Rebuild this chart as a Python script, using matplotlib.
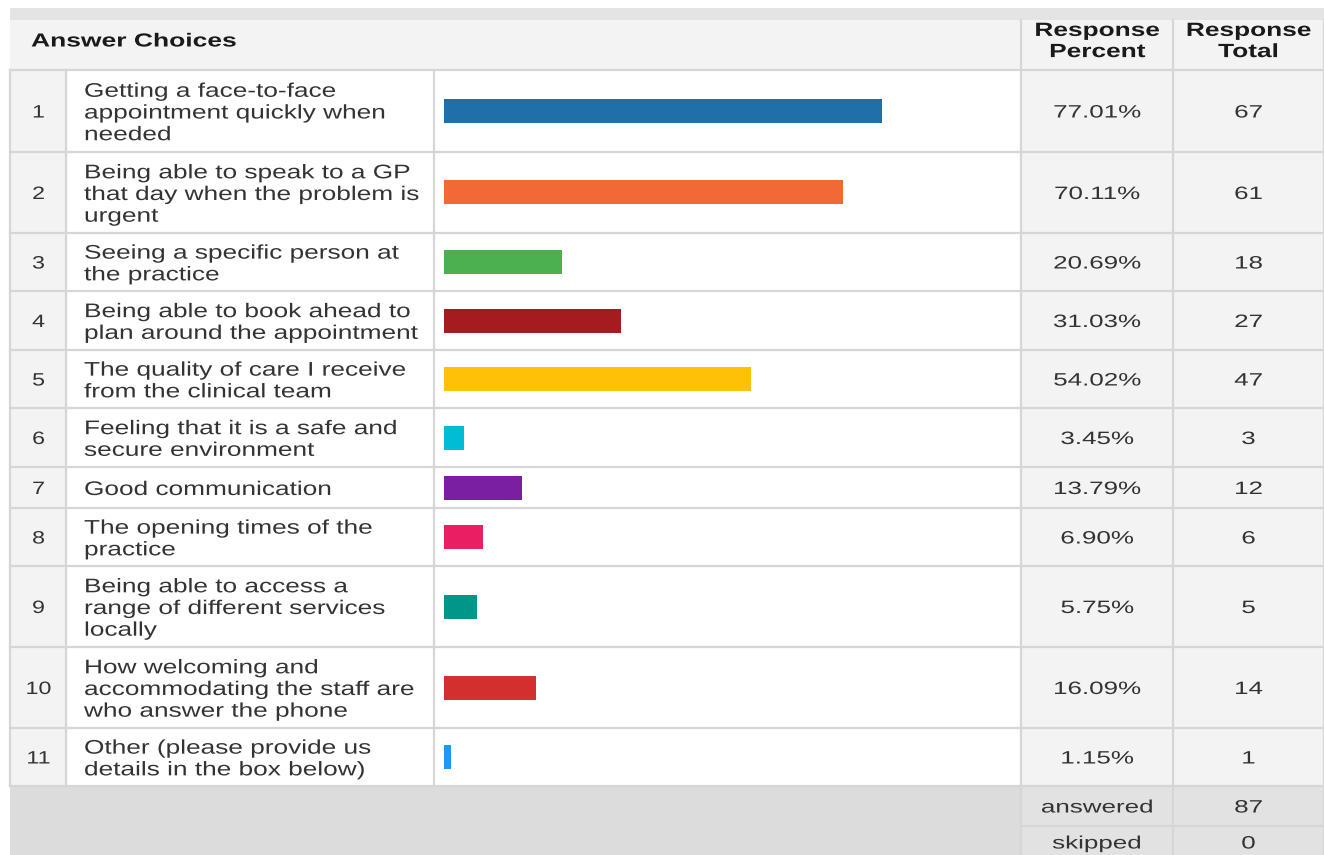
import matplotlib
matplotlib.use("Agg")
import matplotlib.pyplot as plt
from matplotlib.patches import Rectangle
from matplotlib.patheffects import AbstractPathEffect
from matplotlib.transforms import Affine2D

numbers = [str(i) for i in range(1, 12)]
choices = [
    "Getting a face-to-face\nappointment quickly when\nneeded",
    "Being able to speak to a GP\nthat day when the problem is\nurgent",
    "Seeing a specific person at\nthe practice",
    "Being able to book ahead to\nplan around the appointment",
    "The quality of care I receive\nfrom the clinical team",
    "Feeling that it is a safe and\nsecure environment",
    "Good communication",
    "The opening times of the\npractice",
    "Being able to access a\nrange of different services\nlocally",
    "How welcoming and\naccommodating the staff are\nwho answer the phone",
    "Other (please provide us\ndetails in the box below)",
]
percents = [77.01, 70.11, 20.69, 31.03, 54.02, 3.45, 13.79, 6.90, 5.75, 16.09, 1.15]
totals = [67, 61, 18, 27, 47, 3, 12, 6, 5, 14, 1]
answered = 87
skipped = 0
colors = ["#1f6fa8", "#f26a33", "#4caf50", "#a31d1f", "#ffc107", "#00bcd4",
          "#7b1fa2", "#e91e63", "#009688", "#d32f2f", "#2196f3"]

W, H = 1324, 855
fig = plt.figure(figsize=(W / 100, H / 100), dpi=100)
ax = fig.add_axes([0, 0, 1, 1])
ax.set_xlim(0, W)
ax.set_ylim(H, 0)
ax.axis("off")


class StretchX(AbstractPathEffect):
    """Widen text horizontally about a pivot (display x)."""
    def __init__(self, sx, pivot):
        super().__init__()
        self.sx = sx
        self.pivot = pivot

    def draw_path(self, renderer, gc, tpath, affine, rgbFace=None):
        t = affine + Affine2D().translate(-self.pivot, 0).scale(self.sx, 1).translate(self.pivot, 0)
        renderer.draw_path(gc, tpath, t, rgbFace)


FONT = "Liberation Sans"
GRID = "#d6d6d6"
LIGHT = "#f3f3f3"
TXT = "#333333"
DY = 2  # small downward nudge for vertically centred text


def put(x, y, s, size, sx, ha="left", bold=False, ls=1.18, color=TXT):
    ax.text(x, y + DY, s, fontsize=size, family=FONT, ha=ha, va="center",
            fontweight="bold" if bold else "normal", linespacing=ls, color=color,
            path_effects=[StretchX(sx, x)])


# column edges
x0, xn, xt, xp, xtot, x1 = 10, 66, 434, 1021, 1173, 1324
# row edges
rows = [70, 152, 233, 291, 350, 408, 467, 508, 566, 647, 728, 786]
header_top = 20

ax.add_patch(Rectangle((x0, 8), x1 - x0, header_top - 8, color="#e4e4e4", lw=0))
ax.add_patch(Rectangle((x0, header_top), x1 - x0, rows[0] - header_top, color=LIGHT, lw=0))
ax.add_patch(Rectangle((x0, rows[0]), xn - x0, rows[-1] - rows[0], color=LIGHT, lw=0))
ax.add_patch(Rectangle((xn, rows[0]), xp - xn, rows[-1] - rows[0], color="white", lw=0))
ax.add_patch(Rectangle((xp, rows[0]), x1 - xp, rows[-1] - rows[0], color=LIGHT, lw=0))
ax.add_patch(Rectangle((x0, rows[-1]), x1 - x0, H - rows[-1], color="#dcdcdc", lw=0))
ax.add_patch(Rectangle((xp, rows[-1]), x1 - xp, H - rows[-1], color="#e2e2e2", lw=0))

for y in rows:
    ax.plot([x0, x1], [y, y], color=GRID, lw=1.6)
ax.plot([xp, x1], [826, 826], color=GRID, lw=1.6)
for x in [x0, xn, xt]:
    ax.plot([x, x], [rows[0], rows[-1]], color=GRID, lw=1.6)
for x in [xp, xtot, x1]:
    ax.plot([x, x], [header_top, H], color=GRID, lw=1.6)

put(31, 40, "Answer Choices", 13.6, 1.40, bold=True, color="#1a1a1a")
put((xp + xtot) / 2, 40, "Response\nPercent", 13.8, 1.37, ha="center", bold=True,
    ls=1.32, color="#1a1a1a")
put((xtot + x1) / 2, 40, "Response\nTotal", 13.8, 1.37, ha="center", bold=True,
    ls=1.32, color="#1a1a1a")

TS, TX = 14.2, 1.33
NS, NX = 12.9, 1.45
centers = [(rows[i] + rows[i + 1]) / 2 for i in range(len(rows) - 1)]
for i, c in enumerate(centers):
    put((x0 + xn) / 2 + 0.5, c, numbers[i], NS, 1.3, ha="center")
    put(84, c, choices[i], TS, TX)
    put((xp + xtot) / 2, c, f"{percents[i]:.2f}%", NS, NX, ha="center")
    put((xtot + x1) / 2, c, str(totals[i]), NS, NX, ha="center")

put((xp + xtot) / 2, 806, "answered", NS, NX, ha="center")
put((xtot + x1) / 2, 806, str(answered), NS, NX, ha="center")
put((xp + xtot) / 2, 842, "skipped", NS, NX, ha="center")
put((xtot + x1) / 2, 842, str(skipped), NS, NX, ha="center")

# bar axes spanning the bar area (444..1013 px == 0..100 %)
bx0, bx1 = 444, 1013
bax = fig.add_axes([bx0 / W, 0, (bx1 - bx0) / W, 1])
bax.set_xlim(0, 100)
bax.set_ylim(H, 0)
bax.axis("off")
bax.patch.set_alpha(0)
bax.barh(centers, percents, height=24, color=colors, align="center", edgecolor="none")

fig.savefig("out.png", dpi=100)
